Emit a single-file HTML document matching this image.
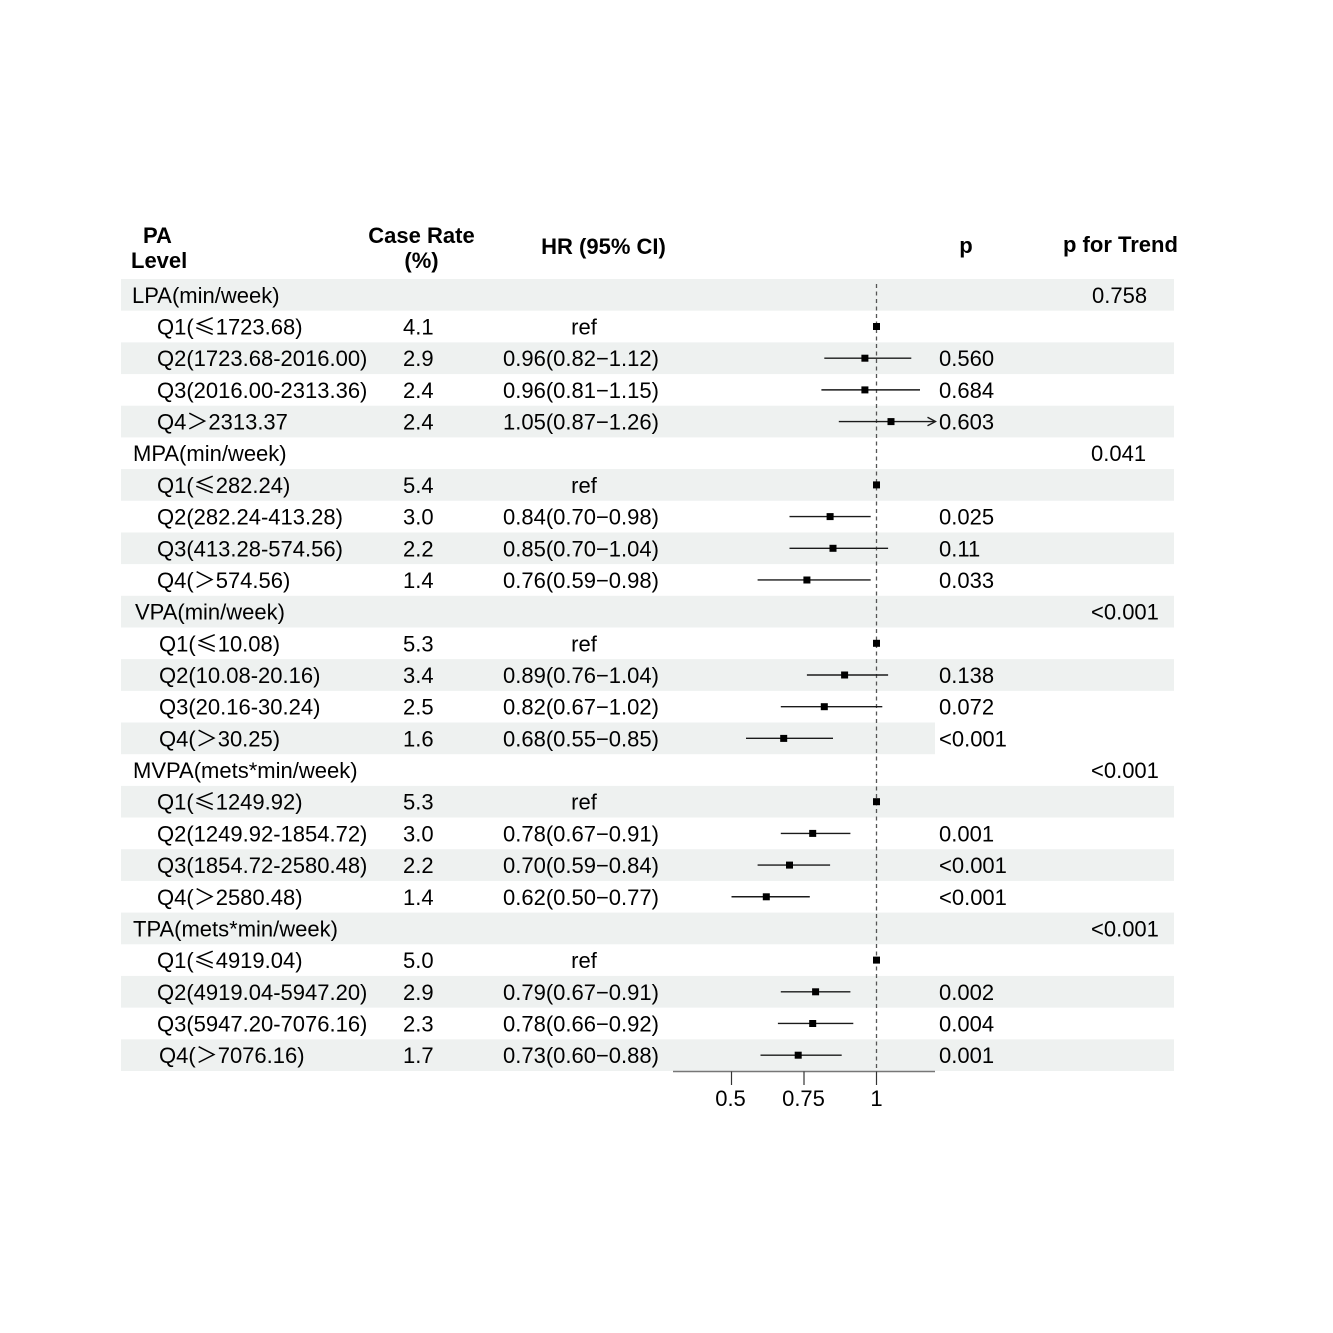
<!DOCTYPE html>
<html>
<head>
<meta charset="utf-8">
<style>
html,body{margin:0;padding:0;background:#fff;}
svg{display:block;}
text{font-family:"Liberation Sans","Noto Sans CJK SC",sans-serif;font-size:22px;fill:#000;}
.b{font-weight:bold;}
.cjk{font-family:"Noto Sans CJK SC","Liberation Sans",sans-serif;}
</style>
</head>
<body>
<svg width="1333" height="1333" viewBox="0 0 1333 1333" xmlns="http://www.w3.org/2000/svg">
<rect x="0" y="0" width="1333" height="1333" fill="#fff"/>
<!-- bands -->
<g fill="#eef1f0">
<rect x="121" y="279" width="1053" height="31.68"/>
<rect x="121" y="342.36" width="1053" height="31.68"/>
<rect x="121" y="405.72" width="1053" height="31.68"/>
<rect x="121" y="469.08" width="1053" height="31.68"/>
<rect x="121" y="532.44" width="1053" height="31.68"/>
<rect x="121" y="595.8" width="1053" height="31.68"/>
<rect x="121" y="659.16" width="1053" height="31.68"/>
<rect x="121" y="722.52" width="814" height="31.68"/>
<rect x="121" y="785.88" width="1053" height="31.68"/>
<rect x="121" y="849.24" width="1053" height="31.68"/>
<rect x="121" y="912.6" width="1053" height="31.68"/>
<rect x="121" y="975.96" width="1053" height="31.68"/>
<rect x="121" y="1039.32" width="1053" height="31.68"/>
</g>

<!-- headers -->
<text class="b" x="143" y="243">PA</text>
<text class="b" x="131" y="268">Level</text>
<text class="b" x="421.5" y="243" text-anchor="middle">Case Rate</text>
<text class="b" x="421.5" y="268" text-anchor="middle">(%)</text>
<text class="b" x="603.5" y="254" text-anchor="middle">HR (95% CI)</text>
<text class="b" x="966" y="253" text-anchor="middle">p</text>
<text class="b" x="1063" y="252">p for Trend</text>

<!-- labels column -->
<g>
<text x="132" y="302.8">LPA(min/week)</text>
<text x="157" y="334.5">Q1(<tspan class="cjk">≤</tspan>1723.68)</text>
<text x="157" y="366.2">Q2(1723.68-2016.00)</text>
<text x="157" y="397.9">Q3(2016.00-2313.36)</text>
<text x="157" y="429.6">Q4<tspan class="cjk">＞</tspan>2313.37</text>

<text x="133" y="461.2">MPA(min/week)</text>
<text x="157" y="492.9">Q1(<tspan class="cjk">≤</tspan>282.24)</text>
<text x="157" y="524.6">Q2(282.24-413.28)</text>
<text x="157" y="556.3">Q3(413.28-574.56)</text>
<text x="157" y="588">Q4(<tspan class="cjk">＞</tspan>574.56)</text>

<text x="135" y="619.6">VPA(min/week)</text>
<text x="159" y="651.3">Q1(<tspan class="cjk">≤</tspan>10.08)</text>
<text x="159" y="683">Q2(10.08-20.16)</text>
<text x="159" y="714.7">Q3(20.16-30.24)</text>
<text x="159" y="746.4">Q4(<tspan class="cjk">＞</tspan>30.25)</text>

<text x="133" y="778">MVPA(mets*min/week)</text>
<text x="157" y="809.7">Q1(<tspan class="cjk">≤</tspan>1249.92)</text>
<text x="157" y="841.4">Q2(1249.92-1854.72)</text>
<text x="157" y="873.1">Q3(1854.72-2580.48)</text>
<text x="157" y="904.8">Q4(<tspan class="cjk">＞</tspan>2580.48)</text>

<text x="133" y="936.4">TPA(mets*min/week)</text>
<text x="157" y="968.1">Q1(<tspan class="cjk">≤</tspan>4919.04)</text>
<text x="157" y="999.8">Q2(4919.04-5947.20)</text>
<text x="157" y="1031.5">Q3(5947.20-7076.16)</text>
<text x="159" y="1063.2">Q4(<tspan class="cjk">＞</tspan>7076.16)</text>
</g>

<!-- case rate -->
<g>
<text x="403" y="334.5">4.1</text>
<text x="403" y="366.2">2.9</text>
<text x="403" y="397.9">2.4</text>
<text x="403" y="429.6">2.4</text>
<text x="403" y="492.9">5.4</text>
<text x="403" y="524.6">3.0</text>
<text x="403" y="556.3">2.2</text>
<text x="403" y="588">1.4</text>
<text x="403" y="651.3">5.3</text>
<text x="403" y="683">3.4</text>
<text x="403" y="714.7">2.5</text>
<text x="403" y="746.4">1.6</text>
<text x="403" y="809.7">5.3</text>
<text x="403" y="841.4">3.0</text>
<text x="403" y="873.1">2.2</text>
<text x="403" y="904.8">1.4</text>
<text x="403" y="968.1">5.0</text>
<text x="403" y="999.8">2.9</text>
<text x="403" y="1031.5">2.3</text>
<text x="403" y="1063.2">1.7</text>
</g>

<!-- HR -->
<g>
<text x="584" y="334.5" text-anchor="middle">ref</text>
<text x="503" y="366.2">0.96(0.82−1.12)</text>
<text x="503" y="397.9">0.96(0.81−1.15)</text>
<text x="503" y="429.6">1.05(0.87−1.26)</text>
<text x="584" y="492.9" text-anchor="middle">ref</text>
<text x="503" y="524.6">0.84(0.70−0.98)</text>
<text x="503" y="556.3">0.85(0.70−1.04)</text>
<text x="503" y="588">0.76(0.59−0.98)</text>
<text x="584" y="651.3" text-anchor="middle">ref</text>
<text x="503" y="683">0.89(0.76−1.04)</text>
<text x="503" y="714.7">0.82(0.67−1.02)</text>
<text x="503" y="746.4">0.68(0.55−0.85)</text>
<text x="584" y="809.7" text-anchor="middle">ref</text>
<text x="503" y="841.4">0.78(0.67−0.91)</text>
<text x="503" y="873.1">0.70(0.59−0.84)</text>
<text x="503" y="904.8">0.62(0.50−0.77)</text>
<text x="584" y="968.1" text-anchor="middle">ref</text>
<text x="503" y="999.8">0.79(0.67−0.91)</text>
<text x="503" y="1031.5">0.78(0.66−0.92)</text>
<text x="503" y="1063.2">0.73(0.60−0.88)</text>
</g>

<!-- p -->
<g>
<text x="939" y="366.2">0.560</text>
<text x="939" y="397.9">0.684</text>
<text x="939" y="429.6">0.603</text>
<text x="939" y="524.6">0.025</text>
<text x="939" y="556.3">0.11</text>
<text x="939" y="588">0.033</text>
<text x="939" y="683">0.138</text>
<text x="939" y="714.7">0.072</text>
<text x="939" y="746.4">&lt;0.001</text>
<text x="939" y="841.4">0.001</text>
<text x="939" y="873.1">&lt;0.001</text>
<text x="939" y="904.8">&lt;0.001</text>
<text x="939" y="999.8">0.002</text>
<text x="939" y="1031.5">0.004</text>
<text x="939" y="1063.2">0.001</text>
</g>

<!-- p trend -->
<g>
<text x="1092" y="302.8">0.758</text>
<text x="1091" y="461.2">0.041</text>
<text x="1091" y="619.6">&lt;0.001</text>
<text x="1091" y="778">&lt;0.001</text>
<text x="1091" y="936.4">&lt;0.001</text>
</g>

<!-- reference dashed line -->
<line x1="876.5" y1="284" x2="876.5" y2="1071.5" stroke="#555" stroke-width="1.3" stroke-dasharray="4,3.5"/>

<!-- CI lines -->
<g stroke="#1a1a1a" stroke-width="1.4" fill="none">
<line x1="824.3" y1="358.2" x2="911.3" y2="358.2"/>
<line x1="821.4" y1="389.88" x2="920" y2="389.88"/>
<line x1="838.8" y1="421.56" x2="935.5" y2="421.56"/>
<polyline points="927.5,417.3 935.5,421.56 927.5,425.8"/>
<line x1="789.5" y1="516.6" x2="870.7" y2="516.6"/>
<line x1="789.5" y1="548.28" x2="888.1" y2="548.28"/>
<line x1="757.6" y1="579.96" x2="870.7" y2="579.96"/>
<line x1="806.9" y1="675" x2="888.1" y2="675"/>
<line x1="780.8" y1="706.68" x2="882.3" y2="706.68"/>
<line x1="746" y1="738.36" x2="833" y2="738.36"/>
<line x1="780.8" y1="833.4" x2="850.4" y2="833.4"/>
<line x1="757.6" y1="865.08" x2="830.1" y2="865.08"/>
<line x1="731.5" y1="896.76" x2="809.8" y2="896.76"/>
<line x1="780.8" y1="991.8" x2="850.4" y2="991.8"/>
<line x1="777.9" y1="1023.48" x2="853.3" y2="1023.48"/>
<line x1="760.5" y1="1055.16" x2="841.7" y2="1055.16"/>
</g>

<!-- points -->
<g fill="#000">
<rect x="873" y="323" width="7" height="7"/>
<rect x="861.4" y="354.7" width="7" height="7"/>
<rect x="861.4" y="386.4" width="7" height="7"/>
<rect x="887.5" y="418.1" width="7" height="7"/>
<rect x="873" y="481.4" width="7" height="7"/>
<rect x="826.6" y="513.1" width="7" height="7"/>
<rect x="829.5" y="544.8" width="7" height="7"/>
<rect x="803.4" y="576.5" width="7" height="7"/>
<rect x="873" y="639.8" width="7" height="7"/>
<rect x="841.1" y="671.5" width="7" height="7"/>
<rect x="820.8" y="703.2" width="7" height="7"/>
<rect x="780.2" y="734.9" width="7" height="7"/>
<rect x="873" y="798.2" width="7" height="7"/>
<rect x="809.2" y="829.9" width="7" height="7"/>
<rect x="786" y="861.6" width="7" height="7"/>
<rect x="762.8" y="893.3" width="7" height="7"/>
<rect x="873" y="956.6" width="7" height="7"/>
<rect x="812.1" y="988.3" width="7" height="7"/>
<rect x="809.2" y="1020" width="7" height="7"/>
<rect x="794.7" y="1051.7" width="7" height="7"/>
</g>

<!-- x axis -->
<line x1="673" y1="1071.5" x2="935" y2="1071.5" stroke="#777" stroke-width="1.5"/>
<g stroke="#333" stroke-width="1.2">
<line x1="731.5" y1="1071.5" x2="731.5" y2="1085"/>
<line x1="804" y1="1071.5" x2="804" y2="1085"/>
<line x1="876.5" y1="1071.5" x2="876.5" y2="1085"/>
</g>
<text x="730.5" y="1106" text-anchor="middle">0.5</text>
<text x="803.5" y="1106" text-anchor="middle">0.75</text>
<text x="876.5" y="1106" text-anchor="middle">1</text>
</svg>
</body>
</html>
